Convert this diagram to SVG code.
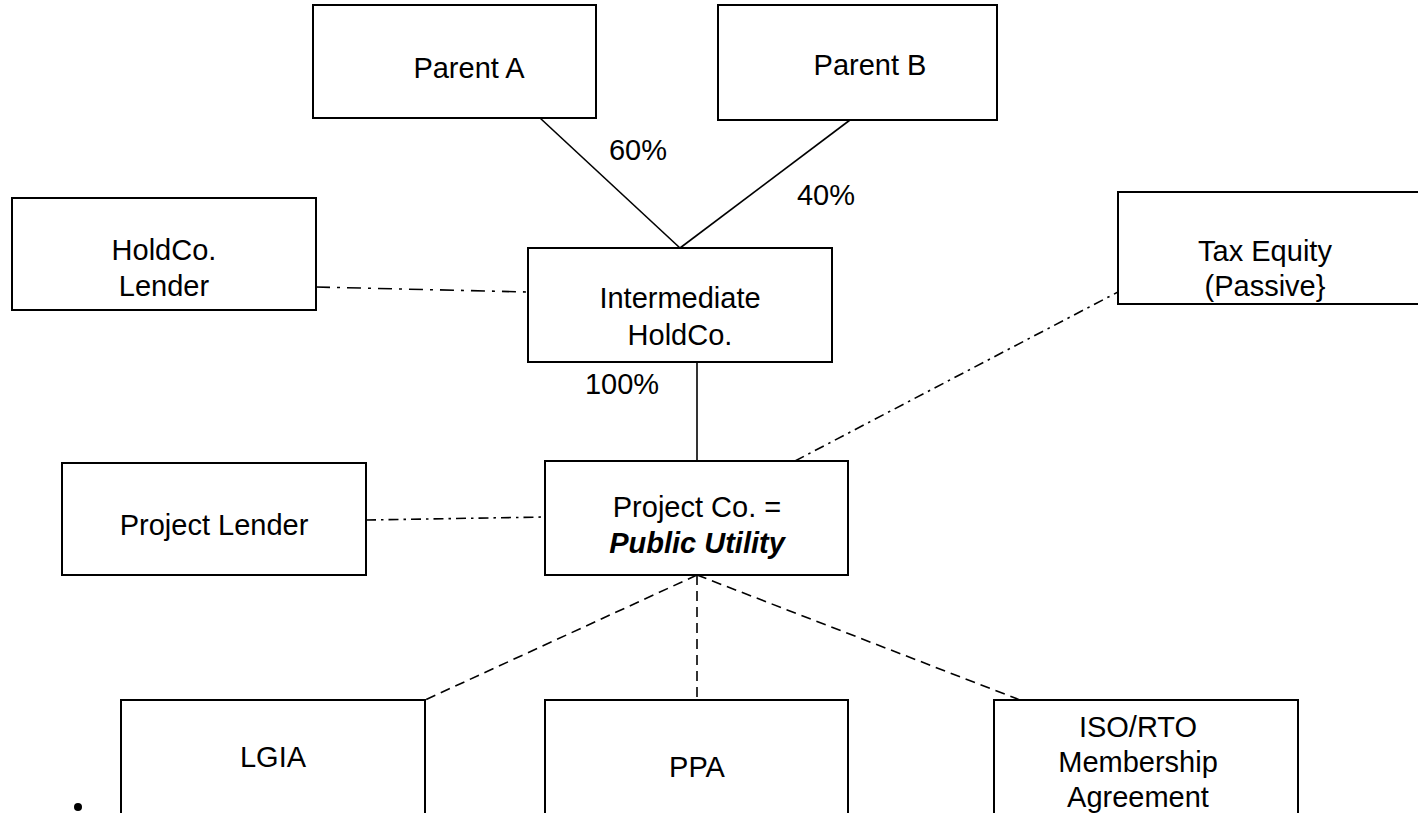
<svg xmlns="http://www.w3.org/2000/svg" width="1418" height="813" viewBox="0 0 1418 813">
<style>
.box{fill:#fff;stroke:#000;stroke-width:2}
.t{font-family:"Liberation Sans",Arial,sans-serif;font-size:29px;fill:#000;text-anchor:middle}
.bi{font-weight:bold;font-style:italic}
.solid{stroke:#000;stroke-width:1.6;fill:none}
.dd1{stroke:#000;stroke-width:1.6;fill:none;stroke-dasharray:14 7 3 7}
.dd2{stroke:#000;stroke-width:1.6;fill:none;stroke-dasharray:10 5 2.5 5}
.dash{stroke:#000;stroke-width:1.6;fill:none;stroke-dasharray:10 6}
</style>
<rect width="1418" height="813" fill="#fff"/>
<g id="connectors">
<line class="solid" x1="540" y1="118" x2="680" y2="248"/>
<line class="solid" x1="850" y1="120" x2="680" y2="248"/>
<line class="solid" x1="697" y1="362" x2="697" y2="461"/>
<line class="dd1" x1="316" y1="287" x2="528" y2="292"/>
<line class="dd2" x1="366" y1="520" x2="545" y2="517"/>
<line class="dd2" x1="795" y1="461" x2="1118" y2="292"/>
<line class="dash" x1="697" y1="575" x2="425" y2="700"/>
<line class="dash" x1="697" y1="575" x2="697" y2="700"/>
<line class="dash" x1="697" y1="575" x2="1020" y2="700"/>
<text class="t" x="638" y="160">60%</text>
<text class="t" x="826" y="205">40%</text>
<text class="t" x="622" y="394">100%</text>
</g>
<g id="parentA"><rect class="box" x="313" y="5" width="283" height="113"/><text class="t" x="469" y="78">Parent A</text></g>
<g id="parentB"><rect class="box" x="718" y="5" width="279" height="115"/><text class="t" x="870" y="75">Parent B</text></g>
<g id="holdcoLender"><rect class="box" x="12" y="198" width="304" height="112"/><text class="t" x="164" y="260">HoldCo.</text><text class="t" x="164" y="296">Lender</text></g>
<g id="intermediate"><rect class="box" x="528" y="248" width="304" height="114"/><text class="t" x="680" y="308">Intermediate</text><text class="t" x="680" y="345">HoldCo.</text></g>
<g id="taxEquity"><rect class="box" x="1118" y="192" width="310" height="112"/><text class="t" x="1265" y="261">Tax Equity</text><text class="t" x="1265" y="296">(Passive}</text></g>
<g id="projectCo"><rect class="box" x="545" y="461" width="303" height="114"/><text class="t" x="697" y="517">Project Co. =</text><text class="t bi" x="697" y="553">Public Utility</text></g>
<g id="projectLender"><rect class="box" x="62" y="463" width="304" height="112"/><text class="t" x="214" y="535">Project Lender</text></g>
<g id="lgia"><rect class="box" x="121" y="700" width="304" height="125"/><text class="t" x="273" y="767">LGIA</text></g>
<g id="ppa"><rect class="box" x="545" y="700" width="303" height="125"/><text class="t" x="697" y="777">PPA</text></g>
<g id="iso"><rect class="box" x="994" y="700" width="304" height="125"/><text class="t" x="1138" y="737">ISO/RTO</text><text class="t" x="1138" y="772">Membership</text><text class="t" x="1138" y="807">Agreement</text></g>
<circle cx="78" cy="807" r="4" fill="#000"/>
</svg>
